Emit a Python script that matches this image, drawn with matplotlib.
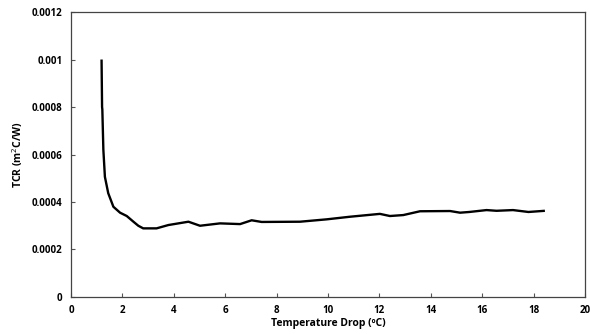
import matplotlib
matplotlib.use("Agg")
import matplotlib.pyplot as plt

# values
temp_drop = [1.19, 1.21, 1.22, 1.26, 1.32, 1.45, 1.65, 1.91, 2.17, 2.43, 2.62, 2.81,
             3.33, 3.79, 4.57, 5.02, 5.8, 6.58, 7.03, 7.42, 8.91, 9.95, 10.86,
             12.02, 12.41, 12.93, 13.58, 14.75, 15.14, 15.5, 16.17, 16.56, 17.2,
             17.8, 18.44]
tcr = [0.001, 0.0008, 0.00079, 0.00062, 0.000506, 0.000437, 0.00038, 0.000355,
       0.000341, 0.000317, 0.0003, 0.000289, 0.000289, 0.000303, 0.000317,
       0.0003, 0.00031, 0.000307, 0.000323, 0.000316, 0.000317, 0.000327,
       0.000338, 0.00035, 0.000341, 0.000345, 0.000361, 0.000362, 0.000355,
       0.000358, 0.000366, 0.000363, 0.000366, 0.000358, 0.000363]
x_ticks = list(range(0, 21, 2))
y_ticks = [0, 0.0002, 0.0004, 0.0006, 0.0008, 0.001, 0.0012]
y_tick_labels = ["0", "0.0002", "0.0004", "0.0006", "0.0008", "0.001", "0.0012"]

plt.rcParams["font.family"] = ["Open Sans", "DejaVu Sans"]

fig = plt.figure(figsize=(5.9, 3.34), dpi=100)
ax = fig.add_axes([0.1203, 0.1108, 0.8712, 0.8532])
ax.plot(temp_drop, tcr, color="black", lw=1.7, solid_joinstyle="round",
        solid_capstyle="butt")

ax.set_xlim(0, 20)
ax.set_ylim(0, 0.0012)
ax.set_xticks(x_ticks)
ax.set_xticklabels([str(t) for t in x_ticks], fontsize=7, fontweight="bold")
ax.set_yticks(y_ticks)
ax.set_yticklabels(y_tick_labels, fontsize=7, fontweight="bold")
ax.tick_params(direction="in", length=3, width=0.8, color="#555555", pad=6)
for s in ax.spines.values():
    s.set_color("#444444")
    s.set_linewidth(0.9)

ax.set_xlabel("Temperature Drop (ºC)", fontsize=7.5, fontweight="bold", labelpad=1)
ax.set_ylabel("TCR (m$^2$C/W)", fontsize=7.5, fontweight="bold", labelpad=5)

fig.savefig("out.png", dpi=100)
